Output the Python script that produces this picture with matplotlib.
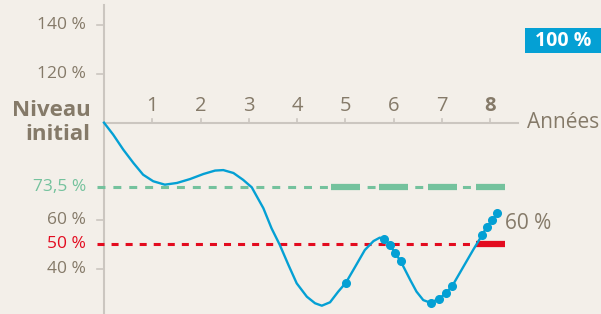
import matplotlib.pyplot as plt
from matplotlib.patches import Rectangle

# curve (years, % of initial level)
curve_years = [0.0, 0.19, 0.40, 0.61, 0.81, 1.02, 1.26, 1.51, 1.78, 2.06, 2.30, 2.47,
               2.68, 2.88, 3.06, 3.09, 3.30, 3.47, 3.64, 3.82, 3.99, 4.20, 4.37, 4.51,
               4.68, 4.85, 5.01, 5.20, 5.40, 5.58, 5.71, 5.80, 5.92, 6.03, 6.14, 6.34,
               6.47, 6.61, 6.76, 6.94, 7.08, 7.21, 7.44, 7.65, 7.83, 7.92, 8.04, 8.14]
curve_vals = [100.0, 95.1, 88.9, 83.4, 78.6, 75.9, 74.5, 75.2, 76.8, 78.9, 80.3, 80.5,
              79.3, 76.5, 73.4, 72.3, 64.8, 56.5, 49.7, 41.4, 33.9, 28.4, 25.7, 24.7,
              26.1, 30.5, 34.2, 40.7, 47.6, 51.3, 52.7, 52.1, 49.7, 46.3, 43.1, 35.3,
              30.5, 27.0, 25.9, 27.6, 29.9, 32.8, 40.7, 47.9, 53.8, 57.0, 59.8, 62.7]

dot_years = [5.01, 5.80, 5.92, 6.03, 6.14, 6.76, 6.94, 7.08, 7.21, 7.83, 7.92, 8.04, 8.14]
dot_vals = [34.2, 52.1, 49.7, 46.3, 43.1, 25.9, 27.6, 29.9, 32.8, 53.8, 57.0, 59.8, 62.7]

years = [1, 2, 3, 4, 5, 6, 7, 8]
y_ticks = [140, 120, 60, 40]
green_level = 73.5
red_level = 50
obs_years = [5, 6, 7, 8]

BG = '#f3efe9'
BLUE = '#04a0d4'
GREEN = '#74c29d'
RED = '#e30b1f'
TXT = '#857a69'
AXC = '#cbc6c0'

plt.rcParams['font.family'] = ['Open Sans', 'DejaVu Sans']

fig = plt.figure(figsize=(6.01, 3.14), dpi=100, facecolor=BG)
ax = fig.add_axes([0, 0, 1, 1])
ax.set_facecolor(BG)
ax.axis('off')
ax.set_xlim(-2.153, 10.29)
ax.set_ylim(21.28, 150.49)

# axes
ax.plot([0, 0], [21.28, 148.5], color=AXC, lw=1.5, zorder=1)
ax.plot([0, 8.57], [100, 100], color=AXC, lw=1.5, zorder=1)
for x in years:
    ax.plot([x, x], [100, 101.6], color=AXC, lw=1.2, zorder=1)
    ax.text(x, 104.8, str(x), ha='center', va='baseline', fontsize=14.5, color=TXT,
            fontweight='bold' if x == 8 else 'normal')
for v in y_ticks:
    ax.plot([-0.145, 0], [v, v], color=AXC, lw=1.2, zorder=1)
    ax.text(-0.37, v, f'{v} %', ha='right', va='center', fontsize=12.5, color=TXT)
ax.text(-0.37, green_level, '73,5 %', ha='right', va='center', fontsize=12.5, color=GREEN)
ax.text(-0.37, red_level, '50 %', ha='right', va='center', fontsize=12.5, color=RED)
ax.text(8.75, 100, 'Années', ha='left', va='center', fontsize=15, color=TXT)
ax.text(-0.28, 100, 'Niveau\ninitial', ha='right', va='center', fontsize=16,
        color=TXT, fontweight='bold', linespacing=1.2)

# reference levels
ax.plot([-0.145, 8.3], [green_level] * 2, color=GREEN, lw=2.2, dashes=(2.6, 2.6), zorder=2)
for x in obs_years:
    ax.plot([x - 0.3, x + 0.3], [green_level] * 2, color=GREEN, lw=4.5,
            solid_capstyle='butt', zorder=2)
ax.plot([-0.145, 7.7], [red_level] * 2, color=RED, lw=2.2, dashes=(2.3, 2.3), zorder=2)
ax.plot([7.7, 8.3], [red_level] * 2, color=RED, lw=4.5, solid_capstyle='butt', zorder=2)

# underlying curve
ax.plot(curve_years, curve_vals, color=BLUE, lw=1.7, zorder=3, solid_joinstyle='round')
ax.plot(dot_years, dot_vals, 'o', color=BLUE, ms=5.5, zorder=4)
ax.text(8.3, 58.5, '60 %', ha='left', va='center', fontsize=15, color=TXT)

# 100 % badge
fig.patches.append(Rectangle((0.8735, 0.830), 0.1265, 0.080, transform=fig.transFigure,
                             facecolor=BLUE, edgecolor='none'))
fig.text(0.937, 0.868, '100 %', ha='center', va='center', fontsize=14,
         color='white', fontweight='bold')

plt.savefig('out.png', dpi=100, facecolor=BG)
